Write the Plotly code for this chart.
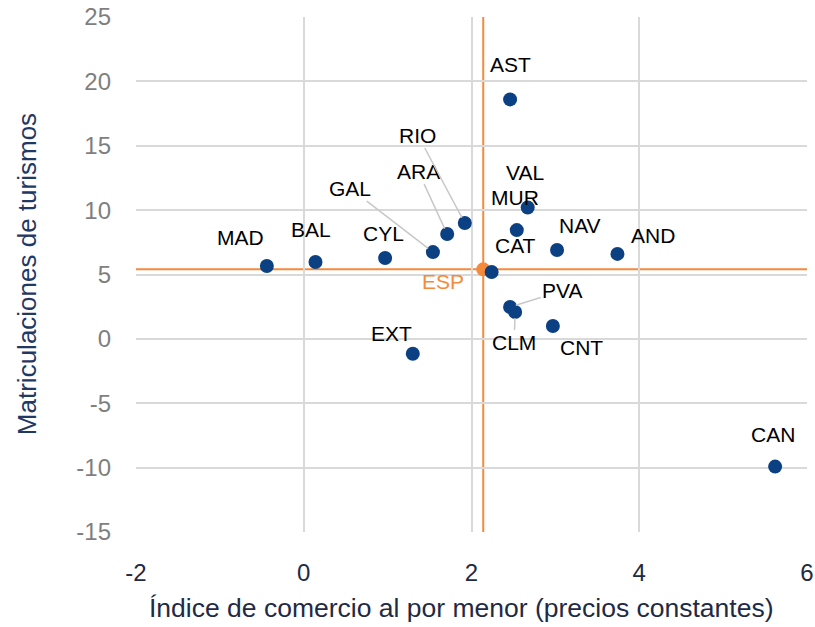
import plotly.graph_objects as go

regions = ["MAD", "BAL", "CYL", "GAL", "ARA", "RIO", "AST", "VAL", "MUR", "CAT",
           "NAV", "AND", "PVA", "CLM", "CNT", "EXT", "CAN"]
comercio = [-0.44, 0.14, 0.97, 1.54, 1.71, 1.92, 2.46, 2.67, 2.54, 2.24,
            3.02, 3.74, 2.46, 2.52, 2.97, 1.30, 5.62]
matric = [5.66, 5.97, 6.28, 6.74, 8.14, 9.0, 18.6, 10.2, 8.45, 5.19,
          6.9, 6.6, 2.48, 2.09, 1.0, -1.16, -9.92]

esp_label = "ESP"
esp_x = 2.14
esp_y = 5.4

x_ticks = [-2, 0, 2, 4, 6]
x_ticktext = ["-2", "0", "2", "4", "6"]
y_ticks = [-15, -10, -5, 0, 5, 10, 15, 20, 25]
y_ticktext = ["-15", "-10", "-5", "0", "5", "10", "15", "20", "25"]

NAVY = "#0B4182"
ORANGE = "#F58A3C"
GRID = "#D9D9D9"
FONT = "Liberation Sans, Arial, sans-serif"

# label offsets in pixels (dx, dy with screen y downward), leader flag
label_style = {
    "MAD": (-26, -29, False), "BAL": (-4, -33, False), "CYL": (-2, -25, False),
    "GAL": (-83, -64, True), "ARA": (-29, -63, True), "RIO": (-47, -88, True),
    "AST": (0, -35, False), "VAL": (-3, -35, False), "MUR": (-2, -33, False),
    "CAT": (24, -27, False), "NAV": (23, -25, False), "AND": (36, -18, False),
    "PVA": (52, -16, True), "CLM": (-1, 31, True), "CNT": (29, 21, False),
    "EXT": (-21, -20, False), "CAN": (-2, -32, False),
}

fig = go.Figure()
fig.add_shape(type="line", x0=esp_x, x1=esp_x, y0=y_ticks[0], y1=y_ticks[-1],
              line=dict(color=ORANGE, width=2), layer="below")
fig.add_shape(type="line", x0=x_ticks[0], x1=x_ticks[-1], y0=esp_y, y1=esp_y,
              line=dict(color=ORANGE, width=2), layer="below")

fig.add_trace(go.Scatter(x=[esp_x], y=[esp_y], mode="markers",
                         marker=dict(size=14, color=ORANGE), hoverinfo="skip"))
fig.add_trace(go.Scatter(x=comercio, y=matric, mode="markers",
                         marker=dict(size=14, color=NAVY), text=regions))

LABEL_FONT = dict(family=FONT, size=21, color="#000000")
annotations = []
for r, xv, yv in zip(regions, comercio, matric):
    dx, dy, leader = label_style[r]
    if leader:
        annotations.append(dict(x=xv, y=yv, text=r, showarrow=True, arrowhead=0,
                                arrowwidth=1.5, arrowcolor="#C8C8C8", ax=dx, ay=dy,
                                standoff=6, font=LABEL_FONT))
    else:
        annotations.append(dict(x=xv, y=yv, text=r, showarrow=False,
                                xshift=dx, yshift=-dy, font=LABEL_FONT))
annotations.append(dict(x=esp_x, y=esp_y, text=esp_label, showarrow=False,
                        xshift=-40, yshift=-12,
                        font=dict(family=FONT, size=21, color=ORANGE)))

# axis titles
annotations.append(dict(xref="paper", yref="paper", x=0.485, y=-0.148,
                        text="Índice de comercio al por menor (precios constantes)",
                        showarrow=False, xanchor="center", yanchor="middle",
                        font=dict(family=FONT, size=26.5, color="#1F2A44")))
annotations.append(dict(xref="paper", yref="paper", x=-0.163, y=0.5,
                        text="Matriculaciones de turismos", textangle=-90,
                        showarrow=False, xanchor="center", yanchor="middle",
                        font=dict(family=FONT, size=26, color="#1F3864")))

fig.update_layout(
    width=815, height=627,
    margin=dict(l=136, r=8, t=17, b=95),
    paper_bgcolor="white", plot_bgcolor="white",
    showlegend=False,
    annotations=annotations,
    xaxis=dict(range=[x_ticks[0], x_ticks[-1]], tickvals=x_ticks, ticktext=x_ticktext,
               showgrid=True, gridcolor=GRID, gridwidth=2, zeroline=False,
               showline=False, ticks="", automargin=False, ticklabelstandoff=24,
               tickfont=dict(family=FONT, size=24, color="#1F2A44")),
    yaxis=dict(range=[y_ticks[0], y_ticks[-1]], tickvals=y_ticks, ticktext=y_ticktext,
               showgrid=True, gridcolor=GRID, gridwidth=2, zeroline=False,
               showline=False, ticks="", automargin=False, ticklabelstandoff=24,
               tickfont=dict(family=FONT, size=24, color="#7F7F7F")),
)

fig.write_html("out.html", config={"displayModeBar": False},
               post_script="document.body.style.margin='0';document.body.style.overflow='hidden';")
